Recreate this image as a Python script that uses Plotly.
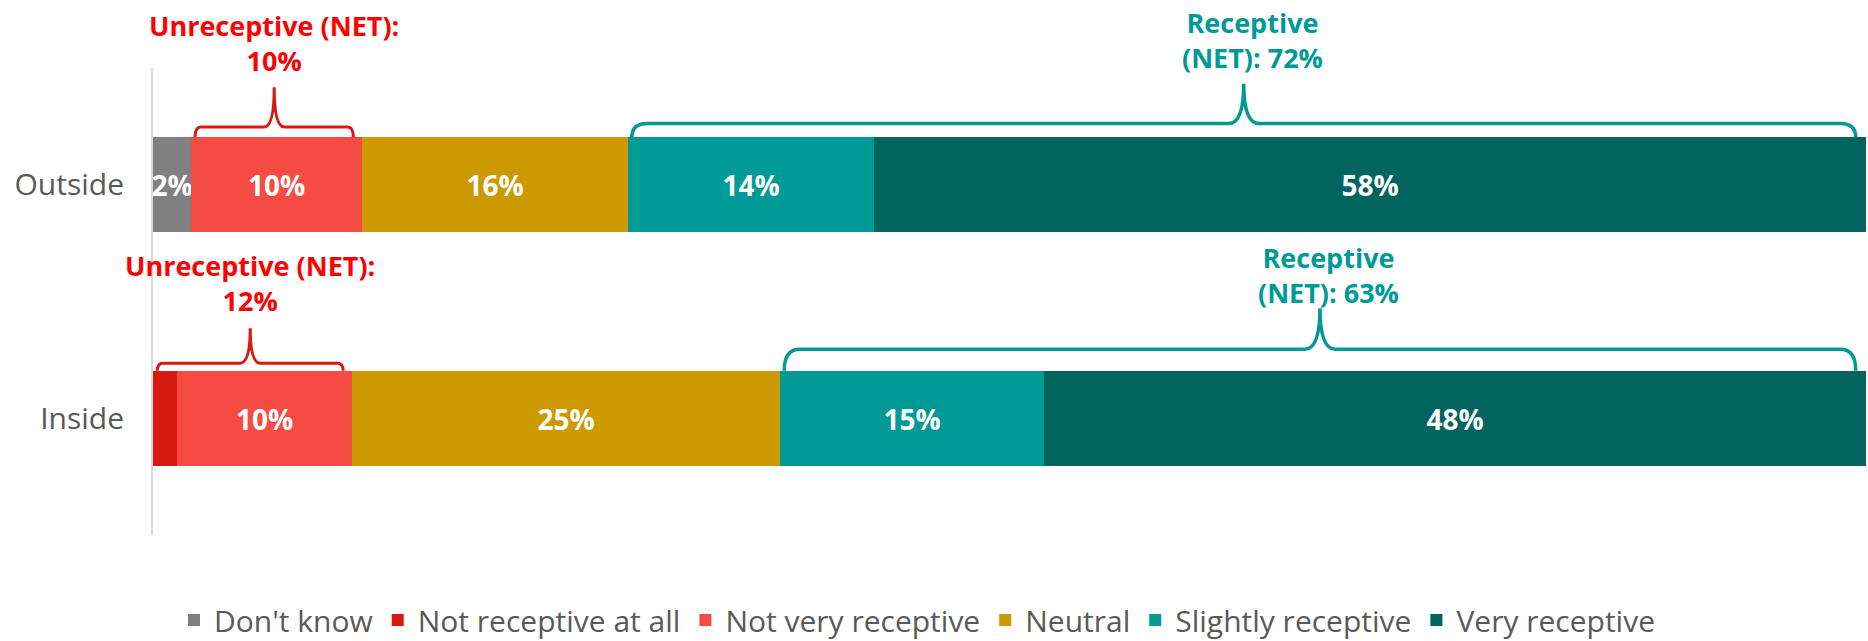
import plotly.graph_objects as go

categories = ["Outside", "Inside"]
y_pos = [1, 0]

series_names = ["Don't know", "Not receptive at all", "Not very receptive",
                "Neutral", "Slightly receptive", "Very receptive"]
dont_know = [2.2, 0.0]
not_at_all = [0.0, 1.4]
not_very = [10.0, 10.2]
neutral = [15.5, 25.0]
slightly = [14.4, 15.4]
very = [57.9, 48.0]

label_dont_know = ["2%", ""]
label_not_at_all = ["", ""]
label_not_very = ["10%", "10%"]
label_neutral = ["16%", "25%"]
label_slightly = ["14%", "15%"]
label_very = ["58%", "48%"]

unreceptive_net = ["10%", "12%"]
receptive_net = ["72%", "63%"]

colors = ["#808080", "#D71A10", "#F44C43", "#CC9900", "#009A96", "#02645F"]
FONT = "Open Sans"
Y_MIN, Y_MAX = -0.5, 1.5

series = [dont_know, not_at_all, not_very, neutral, slightly, very]
labels = [label_dont_know, label_not_at_all, label_not_very,
          label_neutral, label_slightly, label_very]

fig = go.Figure()
for name, vals, txt, col in zip(series_names, series, labels, colors):
    fig.add_trace(go.Bar(
        name=name, y=y_pos, x=vals, orientation="h",
        marker=dict(color=col, line=dict(width=0)),
        text=txt, textposition="inside", insidetextanchor="middle",
        textangle=0, constraintext="none",
        textfont=dict(color="white", size=28, family=FONT, weight="bold"),
        width=0.407, hoverinfo="skip",
    ))


def brace(x0, x1, ybar, yh, ytip, dx_end, dx_mid):
    xm = (x0 + x1) / 2
    return (f"M {x0},{ybar} Q {x0},{yh} {x0+dx_end},{yh} "
            f"L {xm-dx_mid},{yh} Q {xm},{yh} {xm},{ytip} "
            f"Q {xm},{yh} {xm+dx_mid},{yh} "
            f"L {x1-dx_end},{yh} Q {x1},{yh} {x1},{ybar}")


def to_paper(yv):
    return (yv - Y_MIN) / (Y_MAX - Y_MIN)


bar_half = 0.407 / 2
red_style = {1: dict(yh=1.2475, ytip=1.418, ytext=1.608),
             0: dict(yh=0.2355, ytip=0.385, ytext=0.578)}
teal_style = {1: dict(yh=1.262, ytip=1.433, ytext=1.621),
              0: dict(yh=0.295, ytip=0.471, ytext=0.615)}

for i, yp in enumerate(y_pos):
    start_un = dont_know[i]
    end_un = start_un + not_at_all[i] + not_very[i]
    start_rec = end_un + neutral[i]
    end_rec = start_rec + slightly[i] + very[i]

    rs = red_style[yp]
    x0, x1 = start_un + 0.25, end_un - 0.5
    fig.add_shape(type="path", xref="x", yref="y",
                  path=brace(x0, x1, yp + bar_half, rs["yh"], rs["ytip"], 0.35, 0.6),
                  line=dict(color="#D71A10", width=3))
    fig.add_annotation(x=(x0 + x1) / 2, y=to_paper(rs["ytext"]), xref="x", yref="paper",
                       text=f"Unreceptive (NET):<br>{unreceptive_net[i]}",
                       showarrow=False, align="center", yanchor="middle",
                       font=dict(color="#FF0000", size=27, family=FONT, weight="bold"))

    ts = teal_style[yp]
    x0, x1 = start_rec + 0.25, end_rec - 0.6
    fig.add_shape(type="path", xref="x", yref="y",
                  path=brace(x0, x1, yp + bar_half, ts["yh"], ts["ytip"], 0.9, 0.9),
                  line=dict(color="#009A96", width=3.5))
    fig.add_annotation(x=(x0 + x1) / 2 + 0.5, y=to_paper(ts["ytext"]), xref="x", yref="paper",
                       text=f"Receptive<br>(NET): {receptive_net[i]}",
                       showarrow=False, align="center", yanchor="middle",
                       font=dict(color="#009A96", size=27, family=FONT, weight="bold"))

fig.update_layout(
    barmode="stack",
    width=1868, height=641,
    margin=dict(l=153, r=2, t=68, b=106, autoexpand=False),
    plot_bgcolor="white", paper_bgcolor="white",
    font=dict(family=FONT, color="#595959", size=24),
    showlegend=True,
    legend=dict(orientation="h", traceorder="normal",
                x=0.446, xanchor="center",
                y=-0.182, yanchor="middle",
                font=dict(size=30, color="#595959", family=FONT),
                itemsizing="constant", tracegroupgap=0,
                itemwidth=30),
    bargap=0,
)
fig.update_xaxes(range=[0, 100], visible=False, showgrid=False, zeroline=False)
fig.update_yaxes(range=[Y_MIN, Y_MAX], tickvals=y_pos, ticktext=categories,
                 showgrid=False, zeroline=False, showline=True,
                 linecolor="#D9D9D9", linewidth=2, ticks="", automargin=False,
                 ticklabelstandoff=21,
                 tickfont=dict(size=30, color="#595959", family=FONT))

fig.write_html(
    "out.html",
    config={"displayModeBar": False},
    post_script="document.body.style.margin='0px';document.body.style.overflow='hidden';",
)
